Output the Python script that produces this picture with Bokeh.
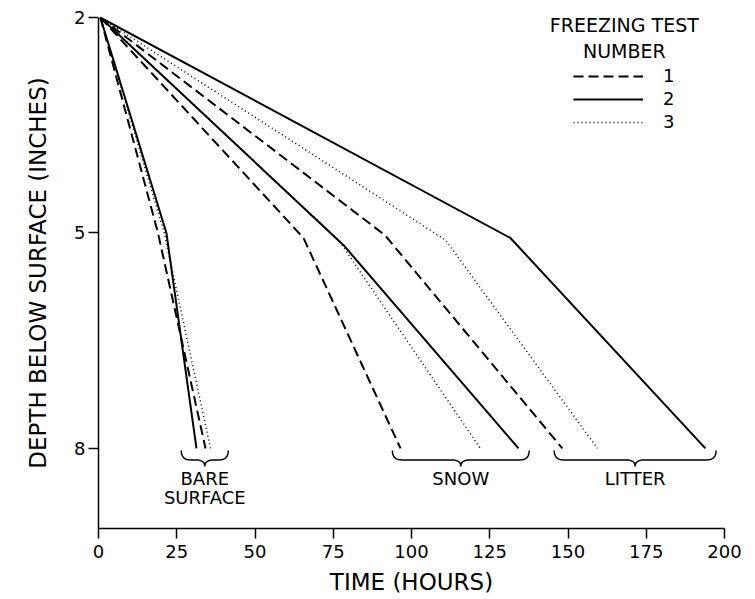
import numpy as np
from bokeh.plotting import figure
from bokeh.models import Range1d, FixedTicker, Legend, LegendItem
from bokeh.core.properties import value
from bokeh.embed import file_html
from bokeh.resources import INLINE

FONT = "DejaVu Sans"

# Time (hours) for the frost line to reach each depth (inches), per cover and freezing test
bare_hours_1 = [0.6, 19.0, 34.2]
bare_depth_1 = [2.0, 5.0, 8.0]
bare_hours_2 = [0.6, 21.7, 31.3]
bare_depth_2 = [2.0, 5.0, 8.0]
bare_hours_3 = [0.6, 21.0, 35.8]
bare_depth_3 = [2.0, 5.0, 8.0]

snow_hours_1 = [0.6, 65.5, 96.5]
snow_depth_1 = [2.0, 5.07, 8.0]
snow_hours_2 = [0.6, 78.3, 134.2]
snow_depth_2 = [2.0, 5.17, 8.0]
snow_hours_3 = [0.6, 76.7, 122.0]
snow_depth_3 = [2.0, 5.10, 8.0]

litter_hours_1 = [0.6, 91.5, 148.2]
litter_depth_1 = [2.0, 5.03, 8.0]
litter_hours_2 = [0.6, 131.6, 193.9]
litter_depth_2 = [2.0, 5.07, 8.0]
litter_hours_3 = [0.6, 110.9, 159.4]
litter_depth_3 = [2.0, 5.10, 8.0]

test_numbers = ["1", "2", "3"]
cover_labels = [["BARE", "SURFACE"], ["SNOW"], ["LITTER"]]
x_ticks = [0, 25, 50, 75, 100, 125, 150, 175, 200]
y_ticks = [2, 5, 8]

covers = [
    [(bare_hours_1, bare_depth_1), (bare_hours_2, bare_depth_2), (bare_hours_3, bare_depth_3)],
    [(snow_hours_1, snow_depth_1), (snow_hours_2, snow_depth_2), (snow_hours_3, snow_depth_3)],
    [(litter_hours_1, litter_depth_1), (litter_hours_2, litter_depth_2), (litter_hours_3, litter_depth_3)],
]

line_styles = {
    "1": dict(line_dash="10 5", line_width=2.0),
    "2": dict(line_dash="solid", line_width=2.0),
    "3": dict(line_dash="1 3", line_width=1.5),
}

p = figure(width=755, height=599, x_range=Range1d(0, 200), y_range=Range1d(9.115, 2),
           output_backend="svg", toolbar_location=None,
           min_border_left=98, min_border_right=31, min_border_top=17, min_border_bottom=71)
p.outline_line_color = None
p.grid.visible = False
p.background_fill_color = "white"
p.border_fill_color = "white"

legend_renderers = {}
for cover in covers:
    for num, (hours, depth) in zip(test_numbers, cover):
        r = p.line(hours, depth, line_color="black", **line_styles[num])
        legend_renderers.setdefault(num, r)


def brace_points(x0, x1, xc, top, mid, tip, r):
    """Horizontal curly brace opening upward, point at xc."""
    def quad(a, c, b, n=16):
        t = np.linspace(0, 1, n)[:, None]
        return (1 - t) ** 2 * np.array(a) + 2 * (1 - t) * t * np.array(c) + t ** 2 * np.array(b)
    segs = [
        quad((x0, top), (x0, mid), (x0 + r, mid)),
        quad((xc - r, mid), (xc, mid), (xc, tip)),
        quad((xc, tip), (xc, mid), (xc + r, mid)),
        quad((x1 - r, mid), (x1, mid), (x1, top)),
    ]
    pts = np.vstack(segs)
    return pts[:, 0], pts[:, 1]


# Braces grouping each cover type, with their names beneath
for cover, names in zip(covers, cover_labels):
    ends = [h[-1] for h, _ in cover]
    lo, hi = min(ends), max(ends)
    half = max((hi - lo) / 2 + 3.0, 7.5)
    centre = (lo + hi) / 2 + 0.4
    bx, by = brace_points(centre - half, centre + half, centre, 8.03, 8.16, 8.25, 3.0)
    p.line(bx, by, line_color="black", line_width=1.5)
    rows = [8.42, 8.68][:len(names)]
    p.text(x=[centre] * len(names), y=rows, text=names, text_align="center",
           text_baseline="middle", text_font=value(FONT), text_font_size="18px",
           text_color="black")

# Legend heading
p.text(x=[168, 168], y=[2.11, 2.47], text=["FREEZING TEST", "NUMBER"], text_align="center",
       text_baseline="middle", text_font=value(FONT), text_font_size="19px", text_color="black")

legend = Legend(
    items=[LegendItem(label=n, renderers=[legend_renderers[n]]) for n in test_numbers],
    location=(475, 396), orientation="vertical",
    glyph_width=70, glyph_height=20, label_height=20, label_width=10, spacing=2,
    padding=0, margin=0, label_standoff=20,
    border_line_alpha=0, background_fill_alpha=0,
    label_text_font=FONT, label_text_font_size="18px", label_text_color="black",
)
p.add_layout(legend)

for ax in (p.xaxis, p.yaxis):
    ax.axis_line_color = "black"
    ax.axis_line_width = 1.5
    ax.major_tick_line_color = "black"
    ax.major_tick_line_width = 1.5
    ax.major_tick_in = 0
    ax.major_tick_out = 10
    ax.minor_tick_line_color = None
    ax.major_label_text_font = FONT
    ax.major_label_text_font_size = "18px"
    ax.major_label_text_color = "black"
    ax.axis_label_text_font = FONT
    ax.axis_label_text_font_style = "normal"
    ax.axis_label_text_color = "black"

p.xaxis.ticker = FixedTicker(ticks=x_ticks)
p.yaxis.ticker = FixedTicker(ticks=y_ticks)
p.xaxis.axis_label = "TIME (HOURS)"
p.yaxis.axis_label = "DEPTH BELOW SURFACE (INCHES)"
p.xaxis.axis_label_text_font_size = "23px"
p.yaxis.axis_label_text_font_size = "23px"
p.xaxis.major_label_standoff = 6
p.xaxis.axis_label_standoff = 8
p.yaxis.major_label_standoff = 3
p.yaxis.axis_label_standoff = 20

open("out.html", "w").write(file_html(p, INLINE))
